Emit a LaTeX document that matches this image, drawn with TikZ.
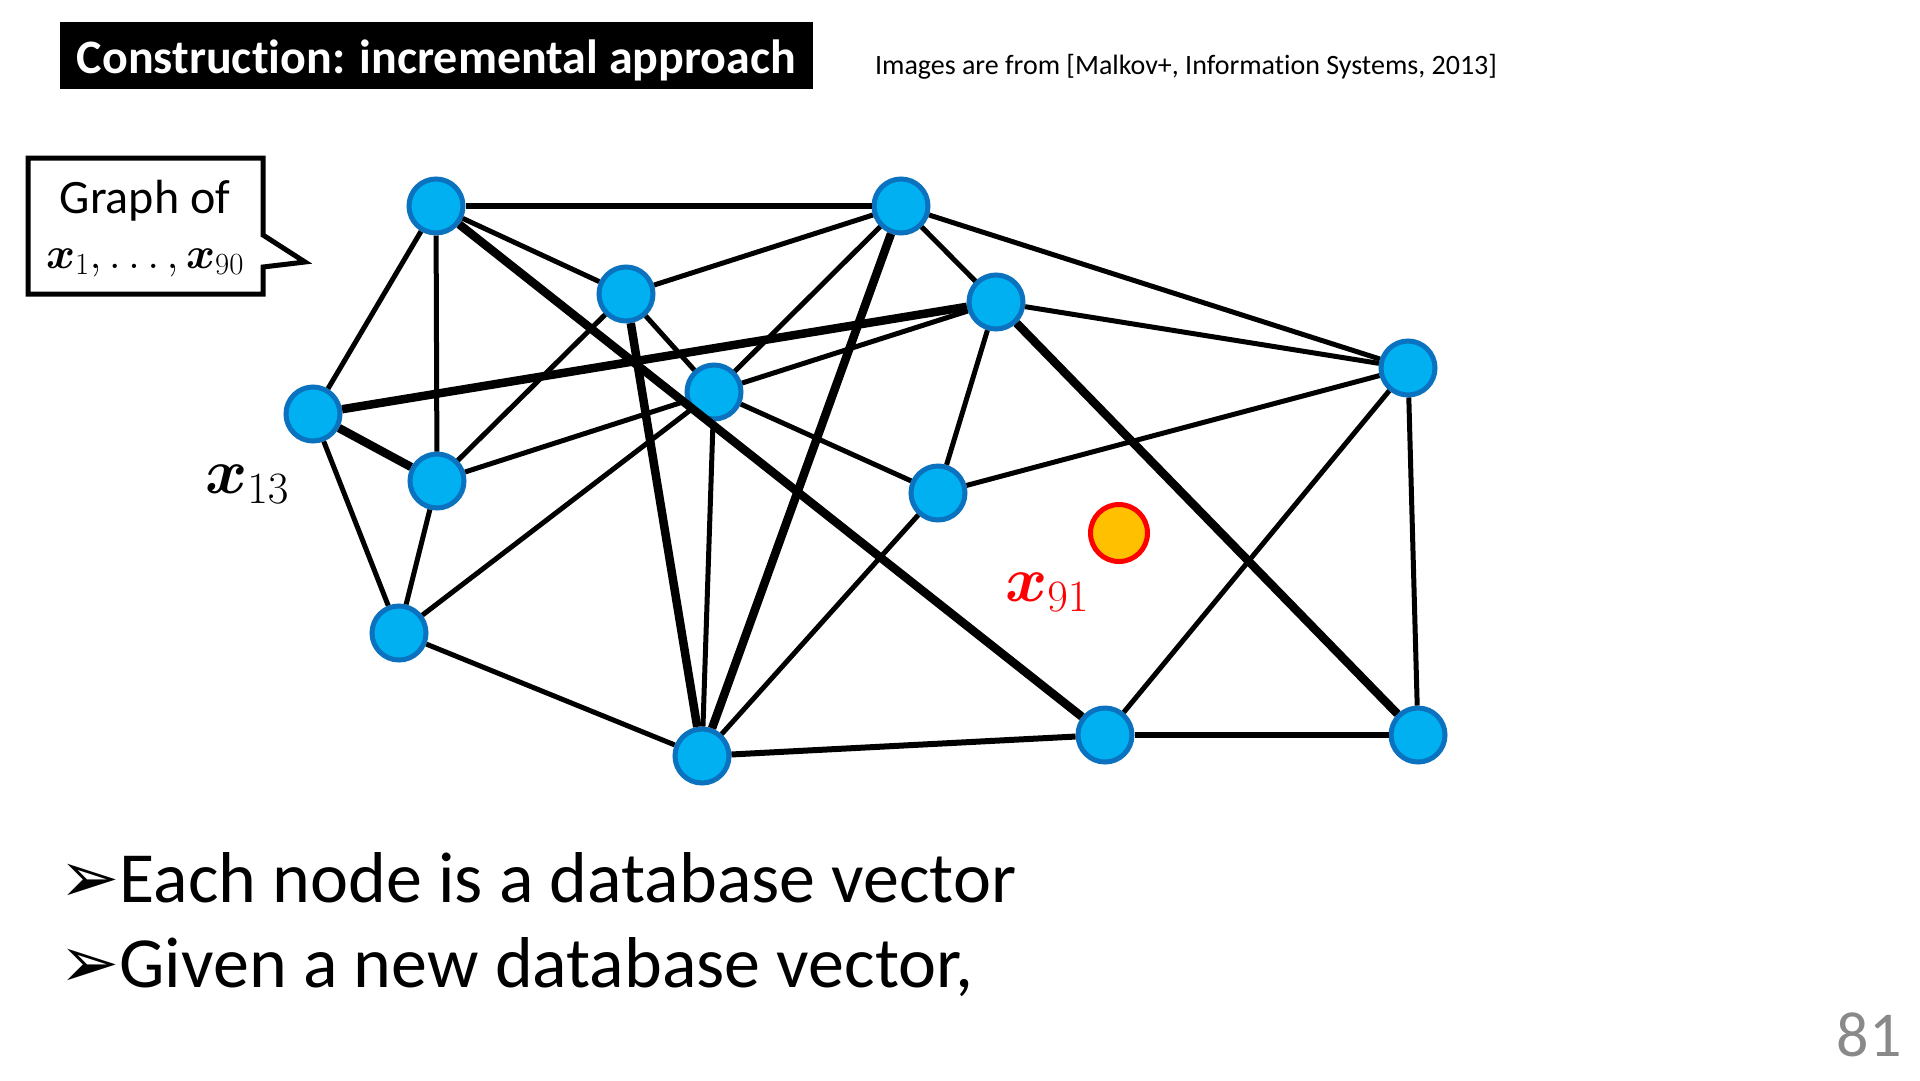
\RequirePackage{fix-cm}
\documentclass[tikz,border=0pt]{standalone}
\usepackage{amsmath}
\usepackage{fontspec}
\setmainfont{Carlito}[Ligatures={NoCommon}]
\newfontfamily\bulletfont{DejaVu Sans}
\usetikzlibrary{shapes.geometric}
\definecolor{vecfill}{HTML}{00B0F0}
\definecolor{vecdraw}{HTML}{0A72BE}
\definecolor{newfill}{HTML}{FFC000}
\definecolor{newdraw}{HTML}{FF0000}
\definecolor{pagegray}{HTML}{898989}

\begin{document}
\begin{tikzpicture}[x=1pt,y=-1pt,
  dbnode/.style={circle,draw=vecdraw,fill=vecfill,line width=5pt,minimum size=54pt,inner sep=0pt},
  newnode/.style={dbnode,draw=newdraw,fill=newfill,minimum size=57pt},
  edge/.style={line width=5pt},
  midedge/.style={line width=6pt},
  fatedge/.style={line width=8.5pt}]
  \useasboundingbox (0,0) rectangle (1920,1080);

  % title and source
  \node[fill=black,text=white,font=\fontsize{48}{56}\selectfont\bfseries,
        minimum width=753pt,minimum height=67pt,inner sep=0pt,text height=46pt,text depth=10pt] (title) at (436.5,55.5) {Construction: incremental approach};
  \node[font=\fontsize{28}{32}\selectfont] (source) at (1186,67) {Images are from [Malkov+, Information Systems, 2013]};

  % callout
  \draw[line width=5pt] (28,158) -- (263,158) -- (263,235) -- (305,262) -- (263,267) -- (263,294) -- (28,294) -- cycle;
  \node[font=\fontsize{48}{56}\selectfont,anchor=base] (cap1) at (145,213) {Graph of};
  \node[font=\fontsize{44}{50}\selectfont,anchor=base] (cap2) at (145,268) {$\boldsymbol{x}_1, \dots, \boldsymbol{x}_{90}$};

  % database vectors
  \node[dbnode] (a) at (436,206) {};
  \node[dbnode] (b) at (901,206) {};
  \node[dbnode] (c) at (626,294) {};
  \node[dbnode] (d) at (996,302) {};
  \node[dbnode] (e) at (1408,368) {};
  \node[dbnode] (f) at (313,414) {};
  \node[dbnode] (g) at (714,392) {};
  \node[dbnode] (h) at (437,481) {};
  \node[dbnode] (i) at (938,493) {};
  \node[dbnode] (j) at (399,633) {};
  \node[dbnode] (k) at (702,756) {};
  \node[dbnode] (l) at (1105,735) {};
  \node[dbnode] (m) at (1418,735) {};

  % new vector
  \node[newnode] (q) at (1119,533) {};

  % edges
  \foreach \u/\v in {a/f,a/h,a/c,b/c,b/g,b/d,b/e,c/h,c/g,f/j,h/j,h/g,j/g,g/d,g/k,g/i,d/i,d/e,i/e,i/k,e/l,e/m,j/k}
    \draw[edge] (\u) -- (\v);
  \foreach \u/\v in {a/b,k/l,l/m}
    \draw[midedge] (\u) -- (\v);
  \foreach \u/\v in {a/l,b/k,c/k,f/d,f/h,d/m}
    \draw[fatedge] (\u) -- (\v);

  % labels
  \node[font=\fontsize{64}{70}\selectfont] (lab13) at (247,484) {$\boldsymbol{x}_{13}$};
  \node[font=\fontsize{64}{70}\selectfont,text=newdraw] (lab91) at (1047,592) {$\boldsymbol{x}_{91}$};

  % bullets
  \node[font=\fontsize{72}{80}\selectfont,anchor=base west,inner sep=0pt] (item1) at (59,902) {{\bulletfont\fontsize{72}{80}\selectfont ➢}Each node is a database vector};
  \node[font=\fontsize{72}{80}\selectfont,anchor=base west,inner sep=0pt] (item2) at (59,987) {{\bulletfont\fontsize{72}{80}\selectfont ➢}Given a new database vector,};

  % page number
  \node[font=\fontsize{64}{70}\selectfont,text=pagegray,anchor=base east,inner sep=0pt] (page) at (1902,1056) {81};
\end{tikzpicture}
\end{document}
